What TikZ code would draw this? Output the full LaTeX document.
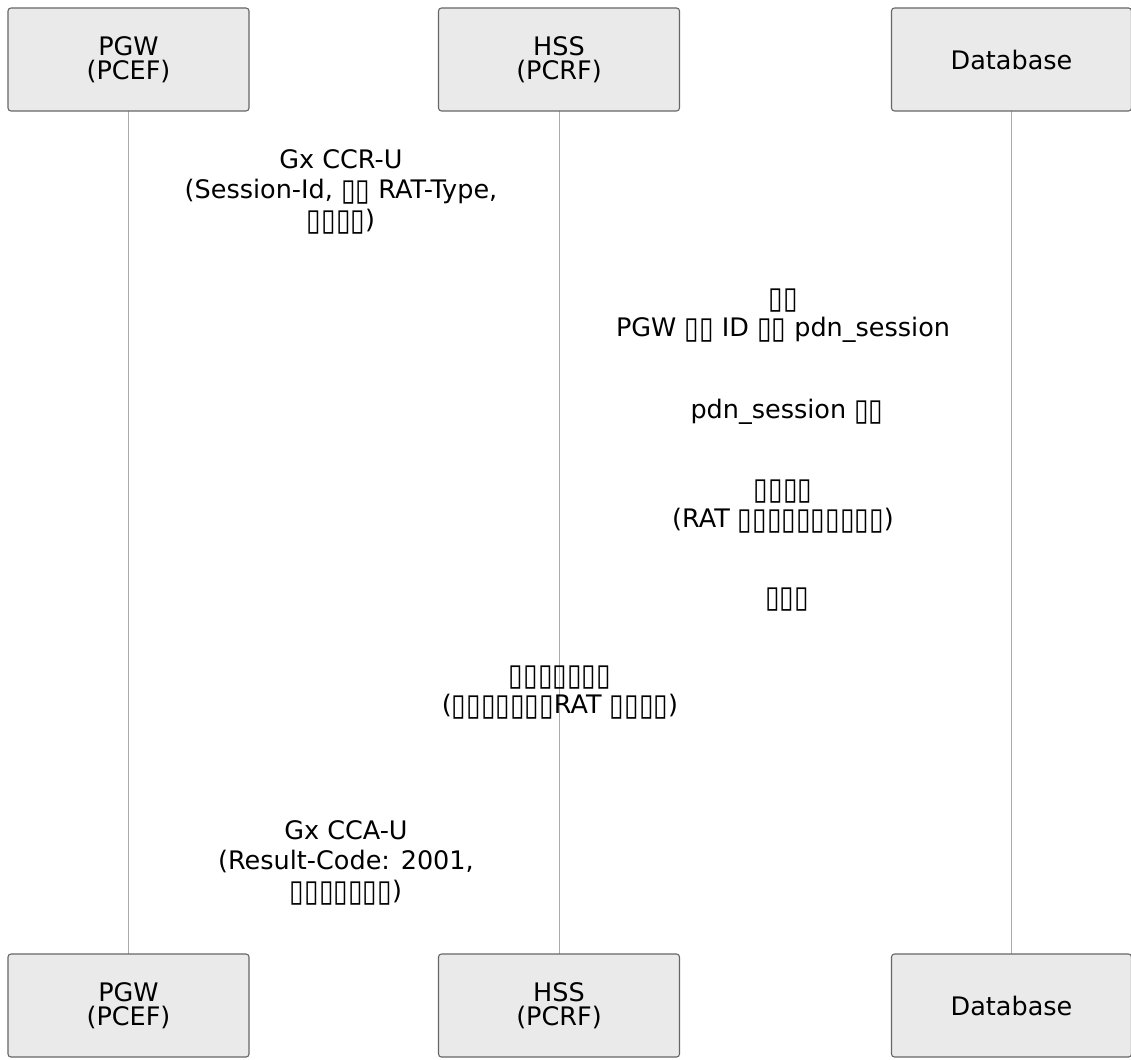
\documentclass[tikz,border=0pt]{standalone}
\usepackage{fontspec}
\setmainfont{DejaVu Sans}
\usepackage{graphicx}
\usepackage{xcolor}
\definecolor{actorfill}{HTML}{EAEAEA}
\definecolor{actorline}{HTML}{666666}
\definecolor{lifeline}{HTML}{AAAAAA}
\newcommand{\tofu}{\raisebox{-0.08em}{\scalebox{1.04}[1.2]{▯}}}

\begin{document}
\begin{tikzpicture}[x=1pt,y=-1pt,
  actor/.style={draw=actorline,fill=actorfill,line width=1.1pt,rounded corners=3pt,
    minimum width=241pt,minimum height=103pt,align=center,
    font=\fontsize{25.5}{24}\selectfont},
  msg/.style={align=center,inner sep=0pt,font=\fontsize{25.5}{30}\selectfont}]
\useasboundingbox (0,0) rectangle (1131,1059);
% lifelines first, boxes on top
\draw[lifeline,line width=1pt] (128.5,111) -- (128.5,954);
\draw[lifeline,line width=1pt] (559,111) -- (559,954);
\draw[lifeline,line width=1pt] (1011.5,111) -- (1011.5,954);
\node[actor] (pgw) at (128.5,59.5) {PGW\\(PCEF)};
\node[actor] (hss) at (559,59.5) {HSS\\(PCRF)};
\node[actor,minimum width=240pt] (db) at (1011.5,59.5) {Database};
\node[actor] (pgwb) at (128.5,1005.5) {PGW\\(PCEF)};
\node[actor] (hssb) at (559,1005.5) {HSS\\(PCRF)};
\node[actor,minimum width=240pt] (dbb) at (1011.5,1005.5) {Database};
% messages
\node[msg] (ccr) at (341,192) {Gx CCR-U\\(Session-Id, \tofu\tofu{} RAT-Type,\\\tofu\tofu\tofu\tofu)};
\node[msg] (lookup) at (783,316) {\tofu\tofu\\PGW \tofu\tofu{} ID \tofu\tofu{} pdn\_session};
\node[msg] (found) at (787,412) {pdn\_session \tofu\tofu};
\node[msg] (check) at (783,507) {\tofu\tofu\tofu\tofu\\(RAT \tofu\tofu\tofu\tofu\tofu\tofu\tofu\tofu\tofu\tofu)};
\node[msg] (done) at (787,600) {\tofu\tofu\tofu};
\node[msg] (update) at (560,693) {\tofu\tofu\tofu\tofu\tofu\tofu\tofu\\(\tofu\tofu\tofu\tofu\tofu\tofu\tofu RAT \tofu\tofu\tofu\tofu)};
\node[msg] (cca) at (346,863) {Gx CCA-U\\(Result-Code: 2001,\\\tofu\tofu\tofu\tofu\tofu\tofu\tofu)};
\end{tikzpicture}
\end{document}
